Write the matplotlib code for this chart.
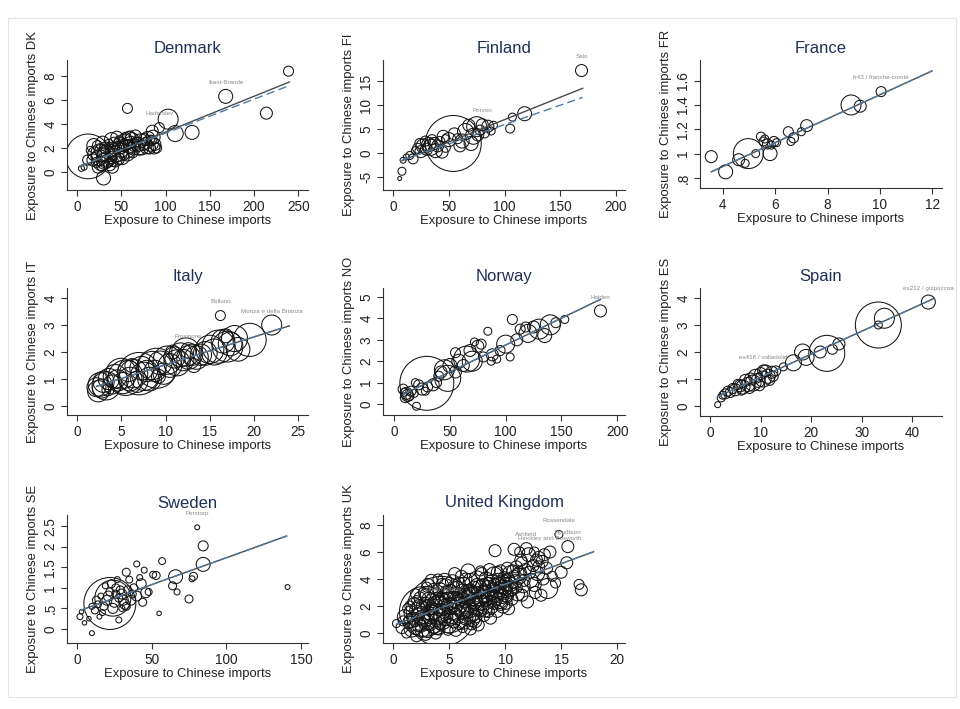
"""Exposure to Chinese imports by region, eight countries, Stata-style weighted scatter."""

import matplotlib

matplotlib.use("Agg")

import numpy as np
from matplotlib import pyplot as plt
from matplotlib.patches import Rectangle

plt.rcParams["font.family"] = ["Liberation Sans", "DejaVu Sans"]

# ---------------------------------------------------------------- data
# Denmark
dk_x = [239, 168, 214, 57, 103, 111, 130, 93, 85, 30, 5, 8, 12.5, 18, 20, 22, 25, 27, 28, 30, 32,
        33, 35, 36, 38, 40, 41, 42, 44, 45, 47, 48, 50, 52, 53, 55, 56, 58, 60, 62, 63, 65, 67, 70,
        72, 75, 78, 80, 82, 84, 88, 90, 86, 23, 37, 45, 60, 15, 12,
        19, 24, 26, 29, 31, 34, 39, 43, 46, 49, 51, 54, 57, 59, 61, 64, 66, 69, 73, 76, 79, 83,
        87, 40, 27]
dk_y = [8.4, 6.3, 4.9, 5.3, 4.4, 3.2, 3.3, 3.7, 3.4, -0.5, 0.3, 0.4, 1.3, 1.0, 1.5, 0.8, 1.2, 1.8,
        0.5, 1.4, 2.0, 1.0, 1.6, 2.3, 1.2, 1.9, 0.9, 2.4, 1.5, 2.0, 1.1, 2.6, 1.8, 2.2, 1.4, 2.8,
        1.9, 2.3, 2.0, 2.7, 1.6, 2.2, 2.5, 1.9, 2.6, 2.2, 2.4, 2.8, 2.0, 2.6, 2.3, 2.0, 2.9, 2.2,
        0.6, 2.9, 3.0, 1.8, 1.0,
        2.2, 0.4, 1.6, 2.4, 0.9, 1.3, 2.7, 1.0, 1.7, 2.2, 1.2, 2.5, 1.5, 2.8, 2.3, 2.0, 3.0, 2.3,
        2.0, 2.7, 2.1, 2.4, 2.0, 0.4, 0.7]
dk_pop = [25, 49, 36, 25, 100, 64, 49, 25, 36, 49, 9, 9, 500, 36, 49, 25, 64, 36, 25, 49, 36, 64,
          81, 25, 36, 49, 25, 36, 64, 25, 36, 25, 49, 36, 25, 36, 81, 25, 36, 49, 25, 36, 25, 36,
          49, 25, 36, 49, 36, 25, 36, 25, 49, 25, 36, 36, 25, 16, 25,
          49, 36, 81, 49, 64, 100, 49, 49, 100, 64, 49, 64, 49, 49, 64, 49, 36, 49, 49, 36, 49,
          64, 36, 36, 49]
dk_fit_x = [3.4, 240]
dk_fit_solid = [0.44, 7.5]
dk_fit_dash = [0.5, 7.2]
dk_label_names = ["Ikast-Brande", "Haderslev"]
dk_label_x = [168, 93]
dk_label_y = [6.3, 3.7]

# Finland
fi_x = [169, 118, 107, 105, 54, 75, 72, 60, 8, 6, 9, 12, 15, 18, 20, 22, 24, 25, 27, 29, 30, 32,
        34, 35, 37, 38, 40, 42, 44, 45, 47, 50, 55, 58, 62, 65, 68, 70, 76, 78, 80, 82, 85, 88,
        90, 47]
fi_y = [17.2, 8.2, 7.5, 5.1, 2.0, 5.5, 3.5, 1.5, -3.8, -5.3, -1.5, -0.8, -0.5, -1.2, 0.5, 1.0,
        2.0, 0.3, 1.5, 2.5, 0.8, 1.8, 1.2, 2.8, 2.0, 0.5, 1.5, 2.4, 0.2, 3.5, 1.2, 2.8, 4.0, 3.0,
        2.5, 4.5, 5.8, 2.0, 3.8, 4.8, 5.9, 4.2, 5.6, 4.6, 5.8, 3.0]
fi_pop = [36, 49, 16, 20, 784, 100, 64, 36, 16, 4, 9, 9, 16, 25, 16, 25, 25, 36, 49, 25, 36, 49,
          64, 25, 36, 49, 36, 25, 36, 36, 25, 49, 36, 25, 49, 64, 36, 49, 36, 25, 36, 25, 36, 16,
          16, 16]
fi_fit_x = [8, 170]
fi_fit_solid = [-1.6, 13.5]
fi_fit_dash = [-1.5, 11.6]
fi_label_names = ["Salo", "Porvoo"]
fi_label_x = [169, 80]
fi_label_y = [17.2, 5.9]

# France
fr_x = [3.55, 4.1, 4.6, 4.85, 4.97, 5.25, 5.45, 5.6, 5.7, 5.8, 5.95, 5.85, 6.5, 6.6, 6.7, 7.0,
        7.2, 8.9, 9.25, 10.05, 6.05, 5.55]
fr_y = [0.975, 0.85, 0.95, 0.92, 1.0, 1.0, 1.14, 1.12, 1.08, 1.0, 1.1, 1.07, 1.18, 1.1, 1.13,
        1.18, 1.23, 1.4, 1.39, 1.51, 1.09, 1.1]
fr_pop = [36, 49, 36, 16, 225, 16, 20, 16, 25, 49, 25, 16, 25, 16, 25, 16, 36, 100, 36, 25, 16, 20]
fr_fit_x = [3.55, 12]
fr_fit_solid = [0.85, 1.68]
fr_fit_dash = [0.85, 1.68]
fr_label_names = ["fr43 / franche-comté"]
fr_label_x = [10.05]
fr_label_y = [1.51]

# Italy
it_x = [2.2, 2.4, 2.6, 2.8, 3.0, 3.3, 3.6, 4.0, 4.3, 4.6, 5.0, 5.2, 5.5, 5.8, 6.0, 6.4, 6.8, 7.0,
        7.3, 7.6, 7.9, 8.2, 8.5, 8.8, 9.0, 9.4, 9.8, 10.2, 10.5, 11.0, 11.3, 11.7, 12.0, 12.3,
        12.6, 13.0, 13.5, 14.0, 14.5, 15.0, 15.5, 16.0, 16.5, 17.0, 17.3, 17.8, 18.2, 19.5, 22.0,
        16.2, 16.8, 3.5, 9.2, 13.2, 10.8, 6.2, 12.6]
it_y = [0.7, 0.55, 0.8, 0.65, 0.9, 0.75, 1.0, 0.8, 1.1, 0.95, 1.2, 0.85, 1.05, 1.3, 1.0, 1.2,
        0.9, 1.2, 1.4, 1.1, 1.3, 1.0, 1.5, 1.3, 1.4, 1.6, 1.2, 1.7, 1.5, 1.8, 1.6, 1.9, 1.7, 2.0,
        1.8, 1.9, 1.8, 1.9, 1.95, 2.1, 2.0, 2.2, 2.4, 2.2, 2.3, 2.5, 2.1, 2.45, 3.0, 3.35, 2.6,
        0.6, 1.1, 1.5, 2.0, 1.5, 2.05]
it_pop = [90, 113, 140, 90, 113, 200, 113, 90, 140, 113, 237, 113, 315, 113, 140, 200, 113, 450,
          140, 200, 113, 140, 200, 113, 400, 140, 113, 200, 140, 113, 170, 140, 113, 200, 140,
          113, 140, 113, 140, 200, 170, 275, 140, 237, 140, 170, 140, 275, 100, 25, 49, 36, 49,
          49, 49, 49, 64]
it_fit_x = [2.2, 24]
it_fit_solid = [0.73, 2.97]
it_fit_dash = [0.73, 2.97]
it_label_names = ["Belluno", "Monza e della Brianza", "Frosinone"]
it_label_x = [16.2, 22.0, 12.6]
it_label_y = [3.35, 3.0, 2.05]

# Norway
no_x = [185, 153, 140, 130, 120, 125, 113, 106, 110, 100, 95, 104, 84, 87, 88, 80, 78, 75, 72,
        70, 65, 62, 58, 55, 50, 48, 45, 42, 40, 38, 35, 29.3, 30, 25, 22, 20, 18, 15, 12, 10, 9,
        8, 11, 14, 19, 28, 55, 68, 92, 135, 145, 118]
no_y = [4.35, 3.95, 3.7, 3.5, 3.3, 3.6, 3.5, 3.95, 3.0, 2.8, 2.5, 2.2, 3.4, 2.0, 2.3, 2.2, 2.8,
        2.7, 2.9, 2.0, 2.1, 1.8, 2.0, 1.5, 1.8, 1.2, 1.6, 1.5, 1.3, 1.0, 0.9, 0.97, 0.8, 0.7, 0.9,
        -0.1, 0.5, 0.6, 0.4, 0.3, 0.55, 0.7, 0.5, 0.35, 1.0, 0.6, 2.4, 2.5, 2.1, 3.2, 3.8, 3.6]
no_pop = [36, 16, 100, 100, 81, 36, 25, 25, 36, 81, 25, 16, 16, 16, 36, 25, 25, 36, 16, 100, 169,
          36, 49, 36, 49, 169, 100, 36, 25, 25, 36, 729, 25, 36, 25, 16, 16, 25, 36, 25, 16, 25,
          36, 16, 16, 16, 25, 36, 16, 49, 25, 25]
no_fit_x = [8, 185]
no_fit_solid = [0.45, 4.89]
no_fit_dash = [0.45, 4.89]
no_label_names = ["Halden"]
no_label_x = [185]
no_label_y = [4.35]

# Spain
es_x = [1.5, 43.2, 33.3, 34.5, 33.3, 23.1, 25.5, 24.2, 21.8, 19.0, 18.3, 16.5, 14.5, 13.0, 12.2,
        11.5, 11.0, 10.5, 10.0, 9.5, 9.0, 8.5, 8.0, 7.5, 7.0, 6.5, 6.0, 5.5, 5.0, 4.5, 4.0, 3.5,
        3.0, 2.5, 2.2, 12.5, 7.8, 9.8, 11.8, 6.2, 10.6]
es_y = [0.05, 3.85, 3.0, 3.25, 3.0, 1.95, 2.3, 2.1, 2.0, 1.8, 2.0, 1.6, 1.45, 1.3, 1.25, 1.1,
        1.3, 1.0, 1.2, 0.95, 1.1, 0.85, 1.0, 0.8, 0.95, 0.7, 0.75, 0.8, 0.6, 0.65, 0.5, 0.55,
        0.45, 0.4, 0.3, 1.1, 0.65, 0.75, 0.95, 0.55, 1.3]
es_pop = [9, 49, 529, 100, 16, 324, 36, 25, 36, 64, 64, 64, 16, 25, 36, 49, 36, 64, 36, 49, 49,
          64, 36, 49, 36, 49, 36, 25, 36, 25, 25, 25, 25, 16, 16, 25, 25, 25, 25, 16, 36]
es_fit_x = [1.5, 44.4]
es_fit_solid = [0.35, 3.99]
es_fit_dash = [0.35, 3.99]
es_label_names = ["es212 / guipúzcoa", "es418 / valladolid"]
es_label_x = [43.2, 10.6]
es_label_y = [3.85, 1.3]

# Sweden
se_x = [80.5, 84.5, 84.5, 57, 66, 64, 67, 75, 77, 78, 55, 141, 53, 51, 40, 45, 33, 22, 24, 10, 2,
        5, 8, 3, 28, 46, 43, 48, 44, 40, 38, 36, 34, 32, 30, 28, 26, 24, 22, 20, 18, 16, 14, 12,
        10, 13, 17, 35, 42, 27, 19, 30, 15, 21, 25, 29, 31, 37, 23, 33, 26]
se_y = [2.47, 2.02, 1.57, 1.65, 1.27, 1.05, 0.9, 0.73, 1.22, 1.28, 0.38, 1.02, 1.3, 1.32, 1.58,
        1.43, 1.38, 0.62, 0.75, -0.1, 0.3, 0.15, 0.25, 0.42, 0.22, 0.88, 1.1, 0.9, 0.65, 0.8,
        1.0, 0.7, 0.95, 0.6, 0.85, 0.75, 1.0, 0.5, 0.9, 0.7, 0.55, 0.8, 0.6, 0.45, 0.55, 0.7,
        0.4, 1.2, 1.25, 1.2, 1.05, 0.5, 0.3, 0.8, 0.65, 0.95, 0.7, 0.85, 1.1, 0.55, 0.85]
se_pop = [6, 25, 49, 12, 49, 16, 9, 16, 9, 16, 5, 6, 16, 12, 9, 9, 16, 676, 324, 6, 9, 5, 5, 5,
          9, 25, 25, 12, 16, 25, 16, 25, 16, 25, 25, 16, 16, 25, 16, 25, 16, 9, 12, 12, 9, 16, 9,
          12, 9, 9, 9, 9, 6, 25, 25, 16, 25, 16, 16, 16, 16]
se_fit_x = [2, 140.4]
se_fit_solid = [0.45, 2.26]
se_fit_dash = [0.45, 2.26]
se_label_names = ["Perstorp"]
se_label_x = [80.5]
se_label_y = [2.47]

# United Kingdom
uk_x = [0.3, 0.8, 1.0, 1.2, 1.4, 1.6, 1.7, 1.9, 2.0, 2.1, 2.2, 2.3, 2.4, 2.5, 2.6, 2.7, 2.8, 2.9,
        3.0, 3.1, 3.2, 3.3, 3.4, 3.5, 3.6, 3.7, 3.8, 3.9, 4.0, 4.1, 4.2, 4.3, 4.4, 4.5, 4.6, 4.7,
        4.8, 4.9, 5.0, 5.0, 5.1, 5.2, 5.3, 5.4, 5.5, 5.6, 5.7, 5.8, 5.9, 6.0, 6.1, 6.2, 6.3, 6.4,
        6.5, 6.6, 6.7, 6.8, 6.9, 7.0, 7.1, 7.2, 7.3, 7.4, 7.5, 7.6, 7.7, 7.8, 7.9, 8.0, 8.1, 8.2,
        8.3, 8.4, 8.5, 8.6, 8.7, 8.8, 8.9, 9.0, 9.1, 9.2, 9.3, 9.4, 9.5, 9.6, 9.7, 9.8, 9.9, 10.0,
        10.1, 10.2, 10.3, 10.4, 10.5, 10.6, 10.8, 10.9, 11.0, 11.1, 11.2, 11.4, 11.5, 11.6, 11.8,
        12.0, 12.1, 11.9, 12.3, 12.5, 12.7, 12.9, 13.0, 13.2, 13.4, 13.5, 13.7, 13.8, 14.0, 14.2,
        14.5, 14.8, 15.0, 15.5, 15.6, 16.6, 16.8, 12.6, 11.3, 4.3,
        1.5, 1.8, 2.0, 2.3, 2.5, 2.7, 2.9, 3.1, 3.3, 3.5, 3.6, 3.8, 3.9, 4.1, 4.2, 4.4, 4.6, 4.7,
        4.9, 5.1, 5.2, 5.4, 5.6, 5.8, 5.9, 6.1, 6.2, 6.4, 6.6, 6.7, 6.9, 7.0, 7.2, 7.4, 7.5, 7.7,
        7.8, 8.0, 8.1, 8.3, 8.5, 8.6, 8.8, 9.0, 9.1, 9.3, 9.5, 9.7, 9.9, 10.1, 10.3, 10.6, 10.7,
        3.0, 2.1, 1.3, 0.9, 5.5, 6.5, 4.0,
        1.6, 2.0, 2.4, 2.6, 3.0, 3.2, 3.4, 3.7, 3.9, 4.0, 4.3, 4.5, 4.8, 5.0, 5.3, 5.5, 5.7, 6.0,
        6.2, 6.3, 6.5, 6.8, 7.0, 7.1, 7.3, 7.5, 7.7, 7.9, 8.2, 8.4, 8.6, 8.9, 9.2, 9.4, 9.6, 9.8,
        10.0, 10.2, 10.5, 10.8, 11.0, 11.3, 11.7, 12.2, 12.6, 13.0, 13.3, 12.8, 11.5, 6.9, 2.9,
        5.6, 4.6, 3.1, 7.6, 8.7]
uk_y = [0.7, 0.4, 1.2, 0.0, 0.8, 1.5, 0.3, 2.2, 1.0, -0.2, 1.7, 0.6, 2.6, 1.3, 0.2, 2.0, 1.6, 0.9,
        2.8, 0.1, 1.9, 1.2, 3.9, 2.4, 0.5, 1.6, 2.9, 1.0, 2.1, 0.3, 3.2, 1.4, 2.6, 0.8, 1.9, 3.5,
        1.2, 2.3, 0.5, 1.5, 3.0, 1.8, 3.8, 0.9, 2.5, 1.4, 3.3, 2.0, 0.7, 2.8, 4.2, 1.6, 3.6, 2.3,
        1.1, 3.0, 4.6, 2.0, 3.9, 1.4, 2.7, 3.4, 0.9, 2.2, 4.0, 3.0, 1.7, 2.6, 4.4, 3.5, 1.3, 2.9,
        4.0, 2.2, 3.3, 4.7, 1.9, 3.8, 2.6, 4.3, 6.1, 3.1, 1.6, 3.9, 2.4, 4.6, 3.4, 2.0, 4.1, 2.9,
        3.6, 4.8, 1.8, 3.2, 4.4, 2.5, 6.2, 3.8, 4.9, 2.9, 4.2, 5.4, 2.8, 3.5, 4.7, 2.3, 5.8, 6.25,
        3.9, 5.0, 3.0, 4.4, 5.6, 2.8, 4.0, 5.8, 4.8, 3.3, 6.0, 4.2, 3.7, 7.3, 4.5, 5.2, 6.4, 3.6,
        3.2, 6.0, 6.0, 1.6,
        2.0, 1.1, 2.9, 1.4, 0.5, 3.0, 2.2, 1.5, 0.6, 1.8, 3.3, 0.0, 2.5, 1.7, 0.6, 3.6, 1.0, 2.8,
        0.2, 2.2, 1.1, 3.4, 2.9, 1.2, 3.7, 2.5, 0.4, 1.9, 1.5, 2.6, 3.2, 0.6, 2.2, 1.2, 3.6, 2.5,
        4.6, 1.9, 3.0, 2.5, 1.6, 3.6, 2.9, 2.2, 3.5, 4.5, 3.0, 2.7, 3.3, 2.2, 4.0, 3.3, 4.6,
        3.4, 2.4, 1.8, 0.9, 4.4, 4.0, 4.0,
        0.9, 0.4, 1.9, 1.1, 0.8, 2.5, 1.5, 2.2, 0.4, 1.2, 2.4, 1.6, 3.0, 2.0, 1.3, 1.9, 2.4, 1.8,
        3.1, 0.8, 2.7, 1.7, 3.0, 1.0, 2.4, 1.8, 3.3, 2.2, 1.7, 3.6, 2.7, 3.2, 2.6, 3.5, 2.2, 3.8,
        3.3, 2.7, 3.6, 4.2, 3.4, 4.4, 3.9, 4.5, 3.6, 4.9, 5.3, 5.4, 5.2, 0.3, -0.1, 0.2, 3.9,
        3.6, 0.6, 1.1]
uk_pop = [16, 36, 49, 25, 36, 49, 64, 36, 49, 36, 64, 49, 36, 81, 49, 49, 625, 36, 49, 36, 64,
          49, 36, 49, 49, 64, 36, 49, 81, 36, 49, 64, 36, 49, 64, 49, 36, 81, 49, 400, 64, 36, 49,
          49, 64, 36, 49, 81, 36, 49, 36, 64, 49, 36, 49, 64, 49, 36, 49, 64, 81, 36, 49, 49, 64,
          36, 49, 64, 36, 49, 36, 81, 49, 36, 64, 36, 49, 49, 36, 64, 36, 49, 36, 49, 64, 36, 49,
          49, 36, 64, 49, 36, 36, 49, 64, 36, 36, 49, 36, 49, 64, 36, 36, 49, 36, 36, 49, 36, 49,
          36, 36, 49, 36, 36, 36, 36, 36, 100, 36, 25, 25, 16, 36, 36, 36, 25, 36, 25, 25, 1225,
          25, 36, 25, 36, 36, 25, 36, 49, 36, 36, 25, 36, 49, 36, 25, 36, 36, 49, 25, 36, 49, 36,
          49, 36, 36, 49, 25, 36, 36, 49, 36, 25, 49, 36, 36, 49, 25, 36, 36, 49, 36, 49, 36, 36,
          49, 36, 36, 49, 36, 36, 36, 49, 36, 25, 25, 25, 25, 36, 36, 25,
          49, 49, 64, 64, 64, 49, 64, 49, 49, 64, 64, 49, 49, 64, 64, 49, 64, 64, 49, 49, 64, 64,
          49, 49, 64, 49, 64, 49, 49, 49, 64, 49, 49, 64, 49, 49, 49, 36, 49, 36, 36, 49, 36, 36,
          49, 36, 36, 36, 36, 36, 36, 36, 49, 36, 36, 36]
uk_fit_x = [0.3, 17.9]
uk_fit_solid = [0.65, 6.02]
uk_fit_dash = [0.65, 6.02]
uk_label_names = ["Rossendale", "Hyndburn", "Ashfield", "Hinckley and Bosworth", "South Ribble"]
uk_label_x = [14.8, 15.6, 11.9, 14.0, 4.5]
uk_label_y = [7.3, 6.4, 6.25, 6.0, 2.2]

# ---------------------------------------------------------------- layout
W, H = 960, 709
AREA = 2.07  # marker area (pt^2) per unit of population weight
TITLE_COLOR = "#1f2f57"
INK = "#222222"


def _panel(fig, box, title, code, xs, ys, pop, fit_x, fit_solid, fit_dash,
           names, name_x, name_y, xlim, ylim, xticks, yticks, yticklabels):
    left, top, right, bottom = box
    axw, axh = right - left, bottom - top
    ax = fig.add_axes([left / W, 1 - bottom / H, axw / W, axh / H])
    ax.scatter(xs, ys, s=np.asarray(pop) * AREA, facecolors="none",
               edgecolors="#151515", linewidths=0.75, zorder=2)
    ax.plot(fit_x, fit_solid, color="#4a4a4a", linewidth=1.0, zorder=3)
    ax.plot(fit_x, fit_dash, color="#4f7ba6", linewidth=1.0, linestyle=(0, (6, 3)), zorder=4)
    for name, x, y in zip(names, name_x, name_y):
        ax.annotate(name, (x, y), xytext=(0, 10), textcoords="offset points", ha="center",
                    va="center", fontsize=4.5, color="#8a8a8a", annotation_clip=False)

    ax.set_xlim(*xlim)
    ax.set_ylim(*ylim)
    ax.set_xticks(xticks)
    ax.set_yticks(yticks)
    ax.set_yticklabels(yticklabels, rotation=90, va="center")
    for side in ("top", "right"):
        ax.spines[side].set_visible(False)
    for side in ("left", "bottom"):
        ax.spines[side].set_color("#333333")
        ax.spines[side].set_linewidth(0.8)
    ax.tick_params(direction="out", length=4, width=0.8, color="#333333",
                   labelsize=9.8, labelcolor=INK, pad=3)
    ax.patch.set_alpha(0)

    ax.text(0.5, 1 + 12 / axh, title, transform=ax.transAxes, ha="center", va="center",
            fontsize=12, color=TITLE_COLOR)
    ax.text(0.5, -31 / axh, "Exposure to Chinese imports", transform=ax.transAxes,
            ha="center", va="center", fontsize=9.4, color=INK)
    ax.text(-34 / axw, 0.5, "Exposure to Chinese imports " + code, transform=ax.transAxes,
            rotation=90, ha="center", va="center", fontsize=9.4, color=INK)
    return ax


fig = plt.figure(figsize=(W / 100, H / 100), dpi=100)
fig.patches.append(Rectangle((8 / W, 1 - 697 / H), 948 / W, 679 / H, transform=fig.transFigure,
                             fill=False, edgecolor="#e4e4e4", linewidth=0.8))

_panel(fig, (67, 60, 308, 190), "Denmark", "DK", dk_x, dk_y, dk_pop,
       dk_fit_x, dk_fit_solid, dk_fit_dash, dk_label_names, dk_label_x, dk_label_y,
       (-11.3, 261), (-1.5, 9.33), [0, 50, 100, 150, 200, 250], [0, 2, 4, 6, 8],
       ["0", "2", "4", "6", "8"])
_panel(fig, (383, 60, 625, 190), "Finland", "FI", fi_x, fi_y, fi_pop,
       fi_fit_x, fi_fit_solid, fi_fit_dash, fi_label_names, fi_label_x, fi_label_y,
       (-9, 208), (-7.7, 19.4), [0, 50, 100, 150, 200], [-5, 0, 5, 10, 15],
       ["-5", "0", "5", "10", "15"])
_panel(fig, (700, 60, 942, 188), "France", "FR", fr_x, fr_y, fr_pop,
       fr_fit_x, fr_fit_solid, fr_fit_dash, fr_label_names, fr_label_x, fr_label_y,
       (3.12, 12.38), (0.717, 1.77), [4, 6, 8, 10, 12], [0.8, 1.0, 1.2, 1.4, 1.6],
       [".8", "1", "1.2", "1.4", "1.6"])
_panel(fig, (67, 288, 308, 415), "Italy", "IT", it_x, it_y, it_pop,
       it_fit_x, it_fit_solid, it_fit_dash, it_label_names, it_label_x, it_label_y,
       (-1.13, 26.1), (-0.33, 4.37), [0, 5, 10, 15, 20, 25], [0, 1, 2, 3, 4],
       ["0", "1", "2", "3", "4"])
_panel(fig, (383, 288, 625, 415), "Norway", "NO", no_x, no_y, no_pop,
       no_fit_x, no_fit_solid, no_fit_dash, no_label_names, no_label_x, no_label_y,
       (-10, 207), (-0.51, 5.42), [0, 50, 100, 150, 200], [0, 1, 2, 3, 4, 5],
       ["0", "1", "2", "3", "4", "5"])
_panel(fig, (700, 288, 942, 416), "Spain", "ES", es_x, es_y, es_pop,
       es_fit_x, es_fit_solid, es_fit_dash, es_label_names, es_label_x, es_label_y,
       (-2, 45.9), (-0.37, 4.37), [0, 10, 20, 30, 40], [0, 1, 2, 3, 4],
       ["0", "1", "2", "3", "4"])
_panel(fig, (67, 515, 308, 643), "Sweden", "SE", se_x, se_y, se_pop,
       se_fit_x, se_fit_solid, se_fit_dash, se_label_names, se_label_x, se_label_y,
       (-6.7, 154.7), (-0.34, 2.77), [0, 50, 100, 150], [0, 0.5, 1, 1.5, 2, 2.5],
       ["0", ".5", "1", "1.5", "2", "2.5"])
_panel(fig, (383, 515, 625, 643), "United Kingdom", "UK", uk_x, uk_y, uk_pop,
       uk_fit_x, uk_fit_solid, uk_fit_dash, uk_label_names, uk_label_x, uk_label_y,
       (-0.9, 20.7), (-0.74, 8.74), [0, 5, 10, 15, 20], [0, 2, 4, 6, 8],
       ["0", "2", "4", "6", "8"])

fig.savefig("out.png", dpi=100)
plt.close(fig)
